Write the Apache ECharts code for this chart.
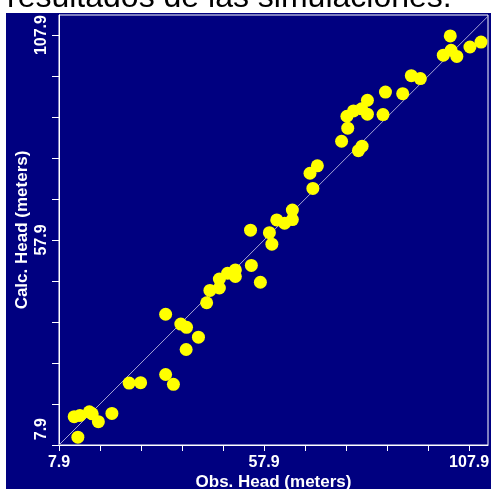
<!DOCTYPE html>
<html>
<head>
<meta charset="utf-8">
<script src="https://cdn.jsdelivr.net/npm/echarts@6/dist/echarts.min.js"></script>
<style>
  html, body { margin: 0; padding: 0; background: #ffffff; }
  #chart { width: 491px; height: 489px; }
</style>
</head>
<body>
<div id="chart"></div>
<script>
// Observed head (x) and calculated head (y), meters
const obsHead = [11.6, 13.0, 15.3, 16.0, 17.5, 20.8, 12.5, 25.0, 27.8, 33.9, 35.8,
  33.9, 37.6, 39.0, 41.9, 38.9, 43.9, 44.7, 47.0, 47.0, 49.0, 50.9, 50.9, 54.8, 57.0,
  54.6, 59.2, 59.8, 61.0, 62.9, 64.8, 64.8, 69.8, 69.1, 70.9, 76.8, 80.9, 81.8,
  78.3, 78.1, 79.7, 81.7, 83.1, 83.1, 86.9, 87.5, 91.7, 93.8, 96.0,
  101.6, 103.5, 104.9, 103.3, 108.1, 110.8];
const calcHead = [14.8, 15.1, 16.0, 15.5, 13.6, 15.6, 9.8, 23.0, 23.1, 25.1, 22.7,
  39.8, 37.4, 36.6, 34.2, 31.2, 42.6, 45.6, 46.2, 48.4, 49.8, 50.6, 49.0, 51.7, 47.6,
  60.3, 59.7, 56.9, 62.8, 62.0, 62.9, 65.2, 70.5, 74.2, 76.0, 82.0, 79.7, 80.8,
  85.2, 88.1, 89.4, 89.9, 92.0, 88.6, 88.5, 94.0, 93.6, 98.0, 97.3,
  103.0, 104.2, 102.7, 107.7, 105.0, 106.2];
// 1:1 reference line end points
const refLine = [7.9, 112.5];
// axis ticks and labels
const tickValues = [7.9, 17.9, 27.9, 37.9, 47.9, 57.9, 67.9, 77.9, 87.9, 97.9, 107.9];
const labelValues = [7.9, 57.9, 107.9];
const xRange = [7.9, 112.5];
const yRange = [7.9, 112.8];
const titleText = 'resultados de las simulaciones.';
const xName = 'Obs. Head (meters)';
const yName = 'Calc. Head (meters)';

const NAVY = '#000080';
const chart = echarts.init(document.getElementById('chart'), null, { renderer: 'canvas' });

const points = obsHead.map((x, i) => [x, calcHead[i]]);
const lineData = refLine.map(v => [v, v]);

const labelFont = { color: '#ffffff', fontFamily: 'Liberation Sans, Arial, sans-serif', fontWeight: 'bold', fontSize: 16 };
const nameFont = Object.assign({}, labelFont, { fontSize: 17 });

chart.setOption({
  animation: false,
  backgroundColor: '#ffffff',
  graphic: [
    { type: 'rect', z: -100, silent: true, shape: { x: 6, y: 13, width: 485, height: 476 }, style: { fill: NAVY } },
    { type: 'text', z: -50, silent: true, x: 7, y: 14,
      style: { text: titleText, fill: '#000000', font: '32px "Liberation Sans", Arial, sans-serif', verticalAlign: 'bottom', align: 'left' } }
  ],
  grid: { left: 59, top: 15, width: 429, height: 430, show: true, containLabel: false, outerBoundsMode: 'none',
    backgroundColor: NAVY, borderColor: '#ffffff', borderWidth: 1 },
  xAxis: {
    type: 'value', min: xRange[0], max: xRange[1],
    name: xName, nameLocation: 'middle', nameGap: 29, nameMoveOverlap: false,
    nameTextStyle: nameFont,
    axisLine: { show: true, lineStyle: { color: '#ffffff', width: 1 } },
    axisTick: { show: true, inside: false, length: 6, customValues: tickValues, lineStyle: { color: '#ffffff' } },
    axisLabel: Object.assign({ margin: 10, customValues: labelValues, formatter: v => v.toFixed(1) }, labelFont),
    splitLine: { show: false }
  },
  yAxis: {
    type: 'value', min: yRange[0], max: yRange[1],
    name: yName, nameLocation: 'middle', nameGap: 28, nameRotate: 90, nameMoveOverlap: false,
    nameTextStyle: nameFont,
    axisLine: { show: true, lineStyle: { color: '#ffffff', width: 1 } },
    axisTick: { show: true, inside: false, length: 7, customValues: tickValues, lineStyle: { color: '#ffffff' } },
    axisLabel: Object.assign({
      margin: 9, rotate: 90, customValues: labelValues,
      formatter: v => (v === labelValues[0] ? '{lo|' + v.toFixed(1) + '}' : v.toFixed(1)),
      rich: { lo: Object.assign({ width: 54, align: 'right' }, labelFont) }
    }, labelFont),
    splitLine: { show: false }
  },
  series: [
    {
      type: 'line', data: lineData, symbol: 'none', z: 1, silent: true,
      lineStyle: { color: '#a4a4d4', width: 1 }
    },
    {
      type: 'scatter', data: points, symbol: 'circle', symbolSize: 13, z: 3,
      itemStyle: { color: '#ffff00', opacity: 1 }
    }
  ]
});
</script>
</body>
</html>
